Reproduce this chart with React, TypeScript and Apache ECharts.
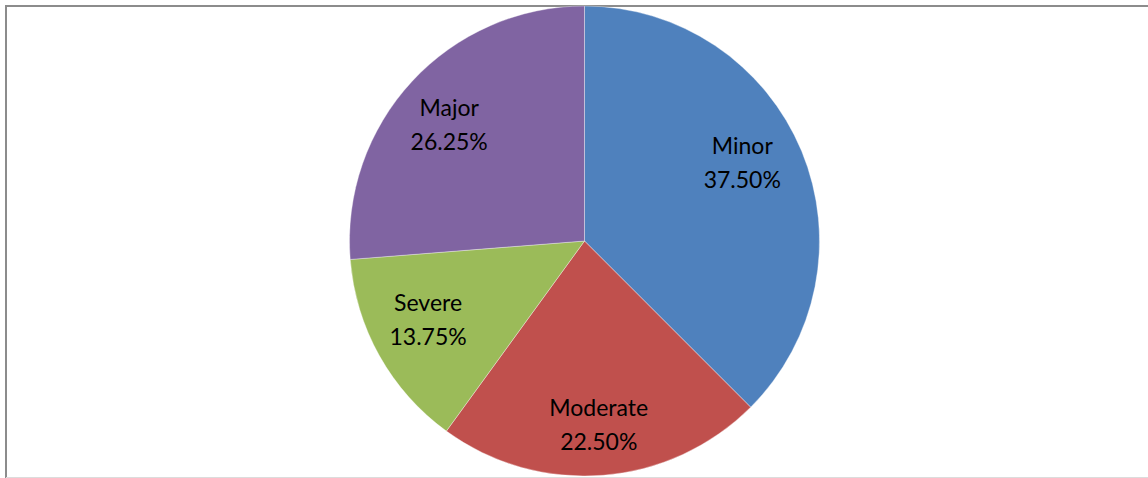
import React, { useEffect, useRef } from "react";
import * as echarts from "echarts";

// Severity shares (percent of all cases)
const categories = ["Minor", "Moderate", "Severe", "Major"];
const shares = [37.5, 22.5, 13.75, 26.25];
const colors = ["#4F81BD", "#C0504D", "#9BBB59", "#8064A2"];

const W = 1148;
const H = 478;
const CENTER: [number, number] = [584.5, 241];
const RADIUS = 235;

// small nudges of each inside label from its default spot
const labelNudges: [number, number][] = [
  [-10, -10],
  [0, 2],
  [2, -11],
  [-2, 6],
];

export default function App() {
  const ref = useRef<HTMLDivElement | null>(null);

  useEffect(() => {
    if (!ref.current) return;
    const chart = echarts.init(ref.current, null, { renderer: "svg" });

    const data = categories.map((name, i) => ({
      name,
      value: shares[i],
      itemStyle: { color: colors[i] },
    }));

    chart.setOption({
      animation: false,
      backgroundColor: "#ffffff",
      graphic: [
        {
          type: "line",
          shape: { x1: 5, y1: 6, x2: W, y2: 6 },
          style: { stroke: "#8c8c8c", lineWidth: 2 },
        },
        {
          type: "line",
          shape: { x1: 6, y1: 5, x2: 6, y2: H },
          style: { stroke: "#8c8c8c", lineWidth: 2 },
        },
        {
          type: "line",
          shape: { x1: 6, y1: 477.5, x2: W, y2: 477.5 },
          style: { stroke: "#dcdcdc", lineWidth: 1 },
        },
      ],
      series: [
        {
          type: "pie",
          center: CENTER,
          radius: [0, RADIUS],
          startAngle: 90,
          clockwise: true,
          silent: true,
          label: { show: false },
          labelLine: { show: false },
          itemStyle: { borderColor: "rgba(255,255,255,0.35)", borderWidth: 1 },
          data,
        },
        {
          // transparent ring whose inside labels sit at ~3/4 of the radius
          type: "pie",
          center: CENTER,
          radius: [RADIUS * 0.52, RADIUS],
          startAngle: 90,
          clockwise: true,
          silent: true,
          itemStyle: { color: "rgba(0,0,0,0)", borderWidth: 0 },
          labelLine: { show: false },
          label: {
            show: true,
            position: "inside",
            color: "#000000",
            fontFamily: "Lato, 'Open Sans', sans-serif",
            fontSize: 23,
            lineHeight: 34,
            align: "center",
            formatter: (p: any) => `${p.name}\n${p.percent.toFixed(2)}%`,
          },
          data: categories.map((name, i) => ({
            name,
            value: shares[i],
            label: { offset: labelNudges[i] },
          })),
        },
      ],
    });

    return () => chart.dispose();
  }, []);

  return (
    <div
      ref={ref}
      style={{ position: "fixed", left: 0, top: 0, width: W, height: H }}
    />
  );
}
